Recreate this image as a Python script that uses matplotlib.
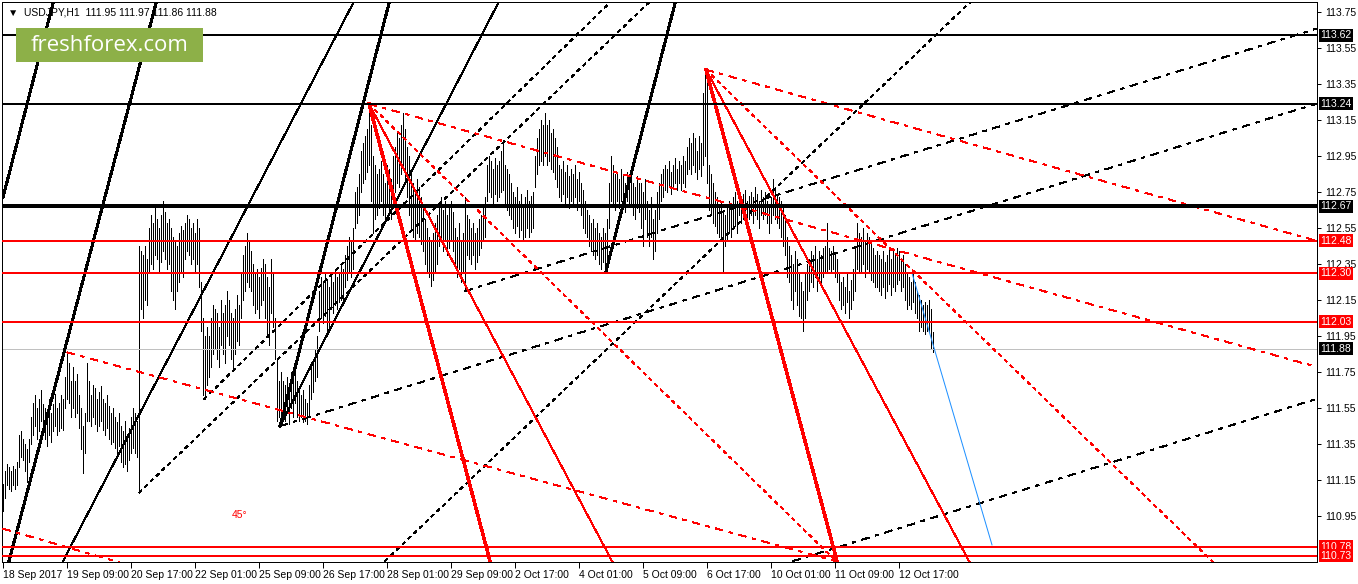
import matplotlib
matplotlib.use('Agg')
import matplotlib.pyplot as plt
from matplotlib.patches import Rectangle
import numpy as np

plt.rcParams['font.family'] = ['Liberation Sans', 'DejaVu Sans']

symbol = 'USDJPY,H1'
last_ohlc = [111.95, 111.97, 111.86, 111.88]

# hourly bars from 18 Sep 2017 00:00
highs = [
    111.13, 111.20,
    111.24, 111.22, 111.20, 111.23, 111.21, 111.25,
    111.40, 111.42, 111.38, 111.35,
    111.32, 111.38,
    111.50, 111.58, 111.62, 111.55, 111.60, 111.65, 111.57,
    111.55, 111.50, 111.60, 111.52, 111.57, 111.63, 111.55, 111.58, 111.62, 111.60,
    111.72, 111.86, 111.80, 111.70,
    111.78, 111.70, 111.74, 111.62, 111.55, 111.45, 111.52,
    111.80,
    111.70, 111.62, 111.68, 111.66, 111.60, 111.64, 111.67, 111.60, 111.58, 111.62,
    111.56, 111.52, 111.55, 111.50, 111.47, 111.52,
    111.45, 111.42, 111.48, 111.40, 111.44, 111.50,
    111.55, 111.52, 111.48,
    112.45,
    112.42, 112.40, 112.45, 112.38,
    112.55, 112.62, 112.58, 112.66, 112.60, 112.55, 112.62, 112.70, 112.64, 112.58,
    112.60, 112.55, 112.50, 112.48, 112.45, 112.52, 112.56, 112.54,
    112.58, 112.62, 112.60, 112.55, 112.58, 112.52, 112.60, 112.55,
    112.25,
    112.05, 111.95, 112.00,
    111.95, 112.05, 112.12, 112.10, 112.08, 112.00, 112.15, 112.08, 112.12, 112.20, 112.15, 112.08, 112.05, 112.10, 112.18, 112.12,
    112.30, 112.40, 112.45, 112.52, 112.48, 112.42,
    112.35, 112.30, 112.32, 112.28, 112.33, 112.38,
    112.35, 112.28, 112.22, 112.38, 112.30,
    112.05, 111.82,
    111.70, 111.75, 111.70, 111.68, 111.72, 111.66,
    111.75, 111.72, 111.80, 111.70, 111.66,
    111.62, 111.65, 111.60, 111.58, 111.68,
    111.78, 111.82, 111.88, 111.95,
    112.20, 112.28, 112.25, 112.30, 112.26, 112.22,
    112.30, 112.25, 112.32, 112.28, 112.30, 112.35, 112.32,
    112.40, 112.45, 112.50, 112.48, 112.55,
    112.75, 112.78, 112.85,
    112.98, 113.02, 113.06, 113.10,
    113.24,
    113.12, 112.95, 112.90,
    112.85, 112.88, 112.92, 112.85, 112.80, 112.90, 112.88, 112.82,
    112.95, 113.00, 113.08, 113.05, 113.12, 113.19, 113.10, 113.00,
    112.95, 112.85, 112.80, 112.75, 112.82, 112.78,
    112.72, 112.68, 112.60, 112.55, 112.50, 112.48, 112.52, 112.58, 112.62,
    112.68, 112.72, 112.65, 112.70, 112.62, 112.66, 112.70, 112.64,
    112.55, 112.50, 112.58, 112.48, 112.52,
    112.72,
    112.62, 112.60, 112.55, 112.58, 112.52, 112.55, 112.60, 112.62, 112.68,
    112.72, 112.90, 112.95, 112.92, 112.88, 112.94, 112.90, 112.92,
    112.98, 113.04,
    112.90, 112.88, 112.85, 112.80,
    112.75, 112.72, 112.78, 112.70, 112.74, 112.68, 112.72, 112.76, 112.70, 112.73, 112.75,
    112.95, 113.05, 113.10, 113.15, 113.12, 113.19, 113.12, 113.15, 113.08, 113.10, 113.05, 113.00,
    112.90, 112.88, 112.92, 112.86, 112.90, 112.84, 112.88, 112.85, 112.90, 112.82, 112.86, 112.80, 112.76,
    112.70, 112.65,
    112.62, 112.58, 112.60, 112.55, 112.58, 112.52, 112.50, 112.55,
    112.52,
    112.60, 112.80, 112.95, 112.90, 112.85,
    112.85, 112.82, 112.88, 112.84, 112.80, 112.86, 112.82, 112.85, 112.80, 112.78, 112.84, 112.80,
    112.80, 112.75, 112.82, 112.70, 112.65, 112.72, 112.60, 112.65,
    112.75, 112.80, 112.85, 112.88,
    112.90, 112.88, 112.92, 112.86, 112.90, 112.94, 112.88, 112.92, 112.90, 112.95, 112.92,
    113.00, 113.05, 113.02, 113.08, 113.05, 112.98, 113.06, 113.02,
    113.30, 113.43,
    113.38,
    112.90, 112.85, 112.80, 112.75,
    112.72, 112.68, 112.70, 112.65, 112.62, 112.66, 112.70, 112.68, 112.72, 112.75, 112.70,
    112.75, 112.72, 112.74, 112.76, 112.70, 112.73, 112.75, 112.72, 112.78, 112.74, 112.70,
    112.76, 112.72, 112.75, 112.70, 112.68, 112.72, 112.82, 112.78, 112.74, 112.72,
    112.70, 112.68,
    112.62, 112.50, 112.45, 112.40, 112.35, 112.42, 112.38, 112.30,
    112.25, 112.20, 112.30,
    112.35, 112.38, 112.42, 112.40, 112.45, 112.38, 112.42, 112.40, 112.44,
    112.45, 112.58,
    112.44, 112.42, 112.45, 112.40, 112.38,
    112.30, 112.25, 112.28, 112.22, 112.30, 112.20, 112.26, 112.32,
    112.45, 112.58, 112.52,
    112.50, 112.55, 112.48, 112.52, 112.50, 112.46, 112.44, 112.40,
    112.42, 112.40, 112.38, 112.42, 112.36, 112.40, 112.44, 112.38, 112.42,
    112.40, 112.44, 112.42, 112.38, 112.40, 112.35,
    112.30, 112.28, 112.25, 112.30,
    112.25, 112.20, 112.18, 112.15, 112.12, 112.14,
    112.12, 112.15, 112.10, 111.97,
]

lows = [
    110.98, 111.05,
    111.12, 111.10, 111.09, 111.12, 111.10, 111.12,
    111.22, 111.28, 111.26, 111.20,
    111.14, 111.25,
    111.35, 111.40, 111.45, 111.38, 111.42, 111.48, 111.40,
    111.38, 111.34, 111.40, 111.36, 111.42, 111.45, 111.40, 111.42, 111.44, 111.43,
    111.55, 111.60, 111.58, 111.50,
    111.55, 111.50, 111.52, 111.44, 111.32, 111.19, 111.30,
    111.48,
    111.48, 111.45, 111.50, 111.46, 111.42, 111.45, 111.48, 111.43, 111.40, 111.44,
    111.38, 111.35, 111.36, 111.33, 111.30, 111.34,
    111.25, 111.22, 111.24, 111.20, 111.26, 111.30,
    111.33, 111.30, 111.28,
    111.08,
    112.10, 112.05, 112.15, 112.12,
    112.30, 112.35, 112.32, 112.40, 112.38, 112.30, 112.36, 112.42, 112.38, 112.32,
    112.35, 112.20, 112.15, 112.10, 112.20, 112.25, 112.30, 112.28,
    112.38, 112.42, 112.40, 112.35, 112.38, 112.30, 112.35, 112.22,
    111.98,
    111.62, 111.60, 111.68,
    111.72, 111.78, 111.85, 111.88, 111.82, 111.78, 111.90, 111.85, 111.80, 111.95, 111.90, 111.82, 111.76, 111.85, 111.92, 111.90,
    112.05, 112.15, 112.20, 112.25, 112.22, 112.20,
    112.12, 112.08, 112.10, 112.05, 112.12, 112.15,
    112.05, 111.95, 111.90, 112.08, 112.00,
    111.82, 111.48,
    111.50, 111.45, 111.50, 111.48, 111.52, 111.46,
    111.55, 111.50, 111.58, 111.50, 111.48,
    111.50, 111.47, 111.48, 111.46, 111.50,
    111.60, 111.64, 111.70, 111.72,
    111.98, 112.05, 112.02, 112.06, 111.98, 112.00,
    112.10, 112.08, 112.12, 112.10, 112.14, 112.15, 112.12,
    112.22, 112.26, 112.30, 112.28, 112.32,
    112.55, 112.58, 112.62,
    112.75, 112.80, 112.82, 112.86,
    112.90,
    112.70, 112.52, 112.60,
    112.62, 112.66, 112.70, 112.62, 112.60, 112.68, 112.65, 112.60,
    112.70, 112.75, 112.80, 112.78, 112.85, 112.88, 112.80, 112.72,
    112.62, 112.55, 112.50, 112.48, 112.52, 112.50,
    112.46, 112.42, 112.35, 112.30, 112.28, 112.23, 112.26, 112.30, 112.35,
    112.45, 112.50, 112.42, 112.48, 112.40, 112.44, 112.48, 112.42,
    112.35, 112.28, 112.32, 112.25, 112.30,
    112.20,
    112.40, 112.38, 112.35, 112.40, 112.32, 112.36, 112.40, 112.44, 112.48,
    112.50, 112.70, 112.75, 112.72, 112.68, 112.74, 112.70, 112.72,
    112.75, 112.76,
    112.68, 112.65, 112.62, 112.60,
    112.55, 112.52, 112.56, 112.50, 112.54, 112.48, 112.50, 112.55, 112.50, 112.53, 112.55,
    112.78, 112.85, 112.90, 112.92, 112.90, 112.95, 112.90, 112.92, 112.88, 112.86, 112.82, 112.78,
    112.72, 112.70, 112.74, 112.68, 112.72, 112.66, 112.70, 112.68, 112.72, 112.65, 112.70, 112.62, 112.55,
    112.52, 112.50,
    112.45, 112.42, 112.40, 112.38, 112.40, 112.35, 112.32, 112.36,
    112.31,
    112.35, 112.55, 112.70, 112.68, 112.65,
    112.70, 112.66, 112.70, 112.68, 112.64, 112.70, 112.67, 112.68, 112.62, 112.60, 112.66, 112.64,
    112.55, 112.45, 112.60, 112.50, 112.45, 112.50, 112.38, 112.42,
    112.52, 112.60, 112.70, 112.72,
    112.76, 112.75, 112.78, 112.74, 112.78, 112.80, 112.76, 112.80, 112.76, 112.80, 112.78,
    112.85, 112.88, 112.85, 112.90, 112.86, 112.82, 112.88, 112.84,
    112.90, 112.95,
    112.80,
    112.65, 112.62, 112.58, 112.56,
    112.52, 112.50, 112.48, 112.30, 112.45, 112.48, 112.52, 112.50, 112.55, 112.56, 112.52,
    112.62, 112.58, 112.60, 112.62, 112.55, 112.60, 112.62, 112.58, 112.62, 112.60, 112.55,
    112.62, 112.60, 112.62, 112.58, 112.52, 112.58, 112.62, 112.60, 112.58, 112.55,
    112.50, 112.45,
    112.40, 112.28, 112.25, 112.15, 112.10, 112.20, 112.12, 112.06,
    112.05, 111.98, 112.05,
    112.15, 112.20, 112.25, 112.22, 112.28, 112.20, 112.26, 112.25, 112.28,
    112.30, 112.30,
    112.32, 112.30, 112.32, 112.28, 112.25,
    112.15, 112.10, 112.12, 112.08, 112.14, 112.05, 112.10, 112.15,
    112.20, 112.32, 112.30,
    112.30, 112.35, 112.28, 112.32, 112.30, 112.26, 112.25, 112.22,
    112.22, 112.20, 112.18, 112.22, 112.16, 112.20, 112.24, 112.18, 112.22,
    112.20, 112.24, 112.26, 112.20, 112.22, 112.15,
    112.10, 112.12, 112.10, 112.14,
    112.08, 112.05, 111.98, 112.00, 111.98, 111.96,
    111.98, 111.97, 111.88, 111.86,
]
assert len(highs) == len(lows) == 466, (len(highs), len(lows))

date_labels = ['18 Sep 2017', '19 Sep 09:00', '20 Sep 17:00', '22 Sep 01:00',
               '25 Sep 09:00', '26 Sep 17:00', '28 Sep 01:00', '29 Sep 09:00',
               '2 Oct 17:00', '4 Oct 01:00', '5 Oct 09:00', '6 Oct 17:00',
               '10 Oct 01:00', '11 Oct 09:00', '12 Oct 17:00']
label_step = 32  # bars between date labels

price_ticks = [113.75, 113.55, 113.35, 113.15, 112.95, 112.75, 112.55, 112.35,
               112.15, 111.95, 111.75, 111.55, 111.35, 111.15, 110.95]

# horizontal levels
black_levels = [113.62, 113.24]
main_level = 112.67
red_levels = [112.48, 112.30, 112.03, 110.78, 110.73]
last_price = 111.88

# trend / gann lines as (bar, price) start point and a second point on the ray
black_thick_fan = [((0, 112.72), (25.5, 113.82)),
                   ((3, 110.70), (77, 113.82)),
                   ((138.5, 111.45), (193.5, 113.82)),
                   ((301.5, 112.31), (336.5, 113.82))]
black_thin_fan = [((30, 110.70), (176, 113.82)),
                  ((138.5, 111.45), (248.5, 113.82))]
black_dotted = [((68, 111.08), (324.5, 113.82)),
                ((100.5, 111.60), (305, 113.82)),
                ((191, 110.70), (485, 113.82))]
black_dashdot = [((138.5, 111.45), (656.5, 113.24)),
                 ((231, 112.20), (654.5, 113.65)),
                 ((395, 110.70), (656.5, 111.60))]
red_thick_fan = [((183, 113.24), (243.5, 110.70)),
                 ((351.5, 113.43), (417, 110.70))]
red_thin_fan = [((183, 113.24), (304.5, 110.70)),
                ((351.5, 113.43), (483, 110.70))]
red_dotted = [((183, 113.24), (416.5, 110.70)),
              ((351.5, 113.43), (604.5, 110.70))]
red_dashdot = [((183, 113.24), (656.5, 111.78)),
               ((351.5, 113.43), (656.5, 112.48)),
               ((32, 111.86), (416.5, 110.70)),
               ((0, 110.88), (56, 110.70))]
forecast = [(454.5, 112.30), (494.5, 110.79)]

PX = 0.72  # one screen pixel in points at dpi 100
DOT = (0, (3, 5))
DASHDOT = (0, (8, 6, 3, 6))
FS = 7.5

fig = plt.figure(figsize=(13.58, 5.84), dpi=100)
ax = fig.add_axes([2 / 1358, 22 / 584, 1315 / 1358, 560 / 584])
ax.set_xlim(-0.5, 657)
ax.set_ylim(110.695, 113.806)

# bars
idx = np.arange(len(highs))
ax.vlines(idx, lows, highs, color='black', lw=PX, antialiased=False, zorder=1)


def ray(p0, p1, **kw):
    x0, y0 = p0
    x1, y1 = p1
    t = 30
    ax.plot([x0, x0 + (x1 - x0) * t], [y0, y0 + (y1 - y0) * t],
            antialiased=False, **kw)


for p0, p1 in black_thick_fan:
    ray(p0, p1, color='black', lw=2 * PX, zorder=3)
for p0, p1 in black_thin_fan:
    ray(p0, p1, color='black', lw=PX, zorder=3)
for p0, p1 in black_dotted:
    ray(p0, p1, color='black', lw=PX, ls=DOT, zorder=3)
for p0, p1 in black_dashdot:
    ray(p0, p1, color='black', lw=PX, ls=DASHDOT, zorder=3)
for p0, p1 in red_thick_fan:
    ray(p0, p1, color='#ff0000', lw=2.5 * PX, zorder=3)
for p0, p1 in red_thin_fan:
    ray(p0, p1, color='#ff0000', lw=PX, zorder=3)
for p0, p1 in red_dotted:
    ray(p0, p1, color='#ff0000', lw=PX, ls=DOT, zorder=3)
for p0, p1 in red_dashdot:
    ray(p0, p1, color='#ff0000', lw=PX, ls=DASHDOT, zorder=3)

ax.plot([forecast[0][0], forecast[1][0]], [forecast[0][1], forecast[1][1]],
        color='#1e90ff', lw=PX, zorder=3)

# horizontal levels
ax.axhline(last_price, color='#c0c0c0', lw=PX, zorder=2)
for v in black_levels:
    ax.axhline(v, color='black', lw=2 * PX, zorder=4)
ax.axhline(main_level, color='black', lw=4 * PX, zorder=4)
for v in red_levels:
    ax.axhline(v, color='#ff0000', lw=2 * PX, zorder=4)

# axes look
for s in ax.spines.values():
    s.set_color('black')
    s.set_linewidth(PX)
ax.yaxis.tick_right()
ax.set_yticks(price_ticks)
ax.set_yticklabels([f'{v:.2f}' for v in price_ticks])
ax.tick_params(axis='y', direction='out', length=3, width=PX, pad=3,
               labelsize=FS, colors='black')
ax.set_xticks(np.arange(len(date_labels)) * label_step)
ax.set_xticklabels(date_labels)
for lab in ax.get_xticklabels():
    lab.set_horizontalalignment('left')
ax.tick_params(axis='x', direction='out', length=4, width=PX, pad=2,
               labelsize=FS, colors='black')

# price tags on the right scale
tags = [(v, 'black') for v in black_levels + [main_level, last_price]] + \
       [(v, '#ff0000') for v in red_levels]
for v, c in tags:
    ax.annotate(f'{v:.2f}', xy=(1, v), xycoords=('axes fraction', 'data'),
                xytext=(2.5, 0), textcoords='offset points', ha='left',
                va='center', fontsize=FS, color='white',
                bbox=dict(boxstyle='square,pad=0.15', fc=c, ec='none'),
                annotation_clip=False, zorder=6)

# header and logo
ax.text(0.0046, 0.982, '\u25bc  ' + symbol + '  ' + ' '.join(f'{v:.2f}' for v in last_ohlc),
        transform=ax.transAxes, fontsize=FS, color='black', va='center',
        ha='left', zorder=7)
ax.add_patch(Rectangle((0.0106, 0.893), 0.1423, 0.0607, transform=ax.transAxes,
                       facecolor='#8db048', edgecolor='none', zorder=8))
ax.text(0.0817, 0.923, 'freshforex.com', transform=ax.transAxes,
        family=['Open Sans', 'DejaVu Sans'], fontsize=16, color='white',
        ha='center', va='center', zorder=9)
ax.text(0.175, 0.084, '45\u00b0', transform=ax.transAxes, fontsize=FS,
        color='#ff0000', ha='left', va='center', zorder=7)

fig.savefig('out.png', dpi=100, facecolor='white')
